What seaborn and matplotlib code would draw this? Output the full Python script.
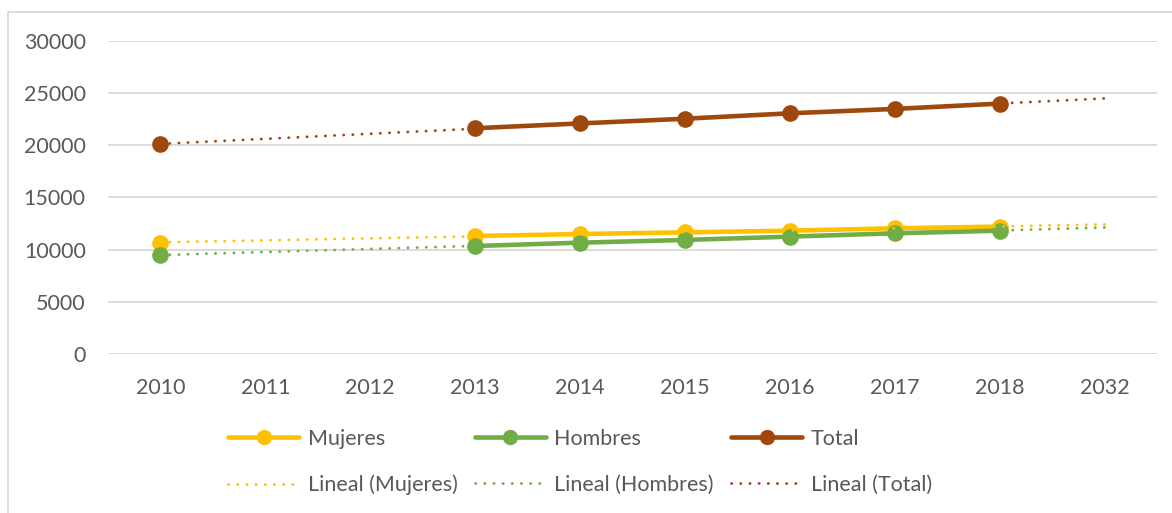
import numpy as np
import pandas as pd
import matplotlib
matplotlib.use('Agg')
import matplotlib.pyplot as plt
import seaborn as sns
from matplotlib.lines import Line2D
from matplotlib.patches import Rectangle

# datos
anios = ['2010', '2011', '2012', '2013', '2014', '2015', '2016', '2017', '2018', '2032']
mujeres = [10670, np.nan, np.nan, 11310, 11500, 11660, 11820, 12050, 12210, np.nan]
hombres = [9490, np.nan, np.nan, 10350, 10670, 10930, 11250, 11570, 11820, np.nan]
total = [20100, np.nan, np.nan, 21640, 22100, 22550, 23070, 23490, 24000, np.nan]

series = {'Mujeres': mujeres, 'Hombres': hombres, 'Total': total}
colores = {'Mujeres': '#FFC000', 'Hombres': '#70AD47', 'Total': '#9E480E'}
gris = '#595959'

# tabla larga, con un id de tramo para no unir los huecos
filas = []
for nombre, vals in series.items():
    seg = 0
    prev_nan = True
    for i, v in enumerate(vals):
        if np.isnan(v):
            prev_nan = True
            continue
        if prev_nan:
            seg += 1
        prev_nan = False
        filas.append({'pos': i, 'valor': v, 'serie': nombre, 'tramo': f'{nombre}_{seg}'})
df = pd.DataFrame(filas)

# tendencia lineal (como la de Excel) sobre la posicion de la categoria
tend = []
for nombre, vals in series.items():
    y = np.array(vals, dtype=float)
    x = np.arange(len(y))
    ok = ~np.isnan(y)
    m, b = np.polyfit(x[ok], y[ok], 1)
    for xi in x:
        tend.append({'pos': xi, 'valor': m * xi + b, 'serie': nombre})
df_t = pd.DataFrame(tend)

sns.set_style('white')
plt.rcParams['font.family'] = ['Lato', 'DejaVu Sans']
fs = 15.5
punteado = (0, (0.1, 3.2))

fig = plt.figure(figsize=(11.72, 5.13), dpi=100)
ax = fig.add_axes([108 / 1172, 1 - 354 / 513, 1049 / 1172, 313 / 513])

sns.lineplot(data=df, x='pos', y='valor', hue='serie', units='tramo', estimator=None,
             palette=colores, hue_order=['Mujeres', 'Hombres', 'Total'],
             marker='o', markersize=12, markeredgewidth=0, linewidth=3.3,
             legend=False, ax=ax, zorder=3)

for nombre in ['Mujeres', 'Hombres', 'Total']:
    d = df_t[df_t['serie'] == nombre]
    sns.lineplot(data=d, x='pos', y='valor', color=colores[nombre], linewidth=2.0,
                 linestyle=punteado, dash_capstyle='round',
                 legend=False, ax=ax, zorder=4)

ax.set_xlim(-0.5, 9.5)
ax.set_ylim(0, 30000)
ax.set_xticks(range(len(anios)))
ax.set_xticklabels(anios)
ax.set_yticks(range(0, 30001, 5000))
ax.set_xlabel('')
ax.set_ylabel('')
ax.grid(axis='y', color='#D9D9D9', linewidth=1.3)
ax.grid(axis='x', visible=False)
for s in ax.spines.values():
    s.set_visible(False)
ax.tick_params(axis='both', length=0, labelsize=fs, labelcolor=gris)
ax.tick_params(axis='y', pad=16)
ax.tick_params(axis='x', pad=17.5)

# leyenda
h = []
lab = []
for nombre in ['Mujeres', 'Hombres', 'Total']:
    h.append(Line2D([], [], color=colores[nombre], linewidth=3.3, marker='o',
                    markersize=11, markeredgewidth=0))
    lab.append(nombre)
for nombre in ['Mujeres', 'Hombres', 'Total']:
    h.append(Line2D([], [], color=colores[nombre], linewidth=2.0,
                    linestyle=punteado, dash_capstyle='round'))
    lab.append(f'Lineal ({nombre})')
# orden por columnas para ncol=3
orden = [0, 3, 1, 4, 2, 5]
leg = fig.legend([h[i] for i in orden], [lab[i] for i in orden], ncol=3,
                 loc='center', bbox_to_anchor=(580 / 1172, 1 - 462 / 513),
                 frameon=False, fontsize=fs, handlelength=3.3, handletextpad=0.4,
                 columnspacing=0.8, labelspacing=1.2, borderpad=0)
for t in leg.get_texts():
    t.set_color(gris)

# borde del area del grafico
fig.patches.append(Rectangle((7.5 / 1172, -0.1), 1.2, 1 - 12.5 / 513 + 0.1,
                             transform=fig.transFigure, fill=False,
                             edgecolor='#D9D9D9', linewidth=1.3))

fig.savefig('out.png', dpi=100)
